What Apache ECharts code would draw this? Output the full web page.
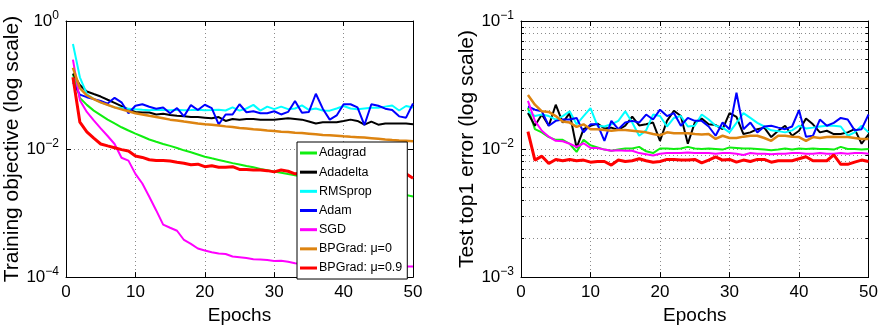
<!DOCTYPE html>
<html><head><meta charset="utf-8">
<script src="https://cdn.jsdelivr.net/npm/echarts@6/dist/echarts.min.js"></script>
<style>html,body{margin:0;padding:0;background:#fff}#c{width:881px;height:330px}</style>
</head><body><div id="c"></div>
<script>
const epochs = [1,2,3,4,5,6,7,8,9,10,11,12,13,14,15,16,17,18,19,20,21,22,23,24,25,26,27,28,29,30,31,32,33,34,35,36,37,38,39,40,41,42,43,44,45,46,47,48,49,50];
const seriesNames = ['Adagrad','Adadelta','RMSprop','Adam','SGD','BPGrad: \u03bc=0','BPGrad: \u03bc=0.9'];
const xTicks = [0,10,20,30,40,50];

// Left: training objective
const trainAdagrad = [0.148,0.0631,0.049,0.0398,0.0339,0.0288,0.0251,0.0219,0.0195,0.0174,0.0157,0.0141,0.0130,0.0120,0.0112,0.0104,0.00955,0.00891,0.00822,0.00759,0.00716,0.00676,0.00638,0.00603,0.00575,0.00543,0.00519,0.0049,0.00468,0.00447,0.00427,0.00407,0.00389,0.00372,0.00355,0.00339,0.00324,0.00309,0.00295,0.00282,0.00269,0.00257,0.00245,0.00234,0.00224,0.00214,0.00207,0.002,0.00191,0.00182];
const trainAdadelta = [0.151,0.100,0.0794,0.0724,0.0661,0.0589,0.0525,0.0468,0.0417,0.0380,0.0372,0.0372,0.0347,0.0355,0.0339,0.0331,0.0324,0.0316,0.0316,0.0309,0.0302,0.0316,0.0275,0.0295,0.0288,0.0295,0.0295,0.0288,0.0288,0.0288,0.0295,0.0302,0.0295,0.0288,0.0269,0.0251,0.0263,0.0263,0.0263,0.0275,0.0288,0.0275,0.0240,0.0269,0.0240,0.0251,0.0251,0.0251,0.0251,0.0245];
const trainRMSprop = [0.437,0.132,0.0724,0.0603,0.0537,0.049,0.0447,0.0437,0.0427,0.0417,0.0410,0.0405,0.0410,0.0407,0.0405,0.0410,0.0405,0.0407,0.0410,0.0405,0.0407,0.0410,0.0400,0.0447,0.0398,0.0430,0.0490,0.0398,0.0460,0.0420,0.0460,0.0420,0.0430,0.0480,0.0410,0.0430,0.0400,0.0398,0.0430,0.0470,0.0430,0.0420,0.0430,0.0440,0.0440,0.0460,0.0480,0.0400,0.0470,0.0445];
const trainAdam = [0.110,0.0708,0.0646,0.0603,0.0562,0.0513,0.0631,0.0537,0.0363,0.0475,0.0501,0.0457,0.0427,0.0447,0.0363,0.0437,0.0324,0.0486,0.0407,0.0492,0.0437,0.0242,0.0347,0.0347,0.0501,0.0376,0.0389,0.0363,0.0363,0.0389,0.0347,0.0380,0.0562,0.0370,0.0380,0.0731,0.0427,0.0288,0.0335,0.0501,0.0501,0.0447,0.0237,0.0501,0.0475,0.0427,0.0407,0.0324,0.0309,0.0515];
const trainSGD = [0.25,0.058,0.038,0.028,0.021,0.016,0.012,0.0073,0.0066,0.0041,0.0029,0.0018,0.0011,0.00066,0.00059,0.00053,0.00038,0.00033,0.00028,0.00026,0.000245,0.000234,0.00023,0.00021,0.000205,0.000198,0.00019,0.000188,0.000185,0.000178,0.00018,0.000174,0.000165,0.000162,0.00016,0.000158,0.000157,0.000155,0.000154,0.000153,0.000152,0.000151,0.00015,0.00015,0.000149,0.000149,0.000148,0.000148,0.000147,0.000147];
const trainBP0 = [0.186,0.0891,0.0692,0.0603,0.0537,0.049,0.0447,0.0417,0.0389,0.0363,0.0347,0.0331,0.0316,0.0302,0.0288,0.0279,0.0269,0.026,0.0251,0.0245,0.024,0.0234,0.0226,0.0221,0.0214,0.0209,0.0204,0.02,0.0195,0.0191,0.0186,0.0184,0.018,0.0178,0.0174,0.017,0.0166,0.0164,0.0162,0.0158,0.0155,0.0153,0.0151,0.0148,0.0145,0.0141,0.0138,0.0136,0.0135,0.0132];
const trainBP09 = [0.132,0.0263,0.0186,0.0148,0.012,0.0112,0.0105,0.0098,0.0093,0.0078,0.0074,0.0068,0.0066,0.0066,0.0065,0.0062,0.006,0.0057,0.0058,0.0053,0.0055,0.0052,0.0052,0.0053,0.0048,0.0048,0.0047,0.0047,0.0046,0.0044,0.0047,0.0045,0.0041,0.0042,0.0042,0.0041,0.0042,0.0041,0.0041,0.0041,0.0040,0.0041,0.0040,0.0040,0.0041,0.0040,0.0040,0.0040,0.0041,0.0035];

// Right: test top1 error
const testAdagrad = [0.0209,0.0143,0.0135,0.0124,0.0118,0.0118,0.0110,0.0095,0.0118,0.0107,0.0103,0.0099,0.0097,0.0099,0.0101,0.0101,0.0104,0.0096,0.0093,0.0101,0.0101,0.0100,0.0101,0.0104,0.0101,0.0100,0.0101,0.0100,0.0099,0.0103,0.0102,0.0101,0.0101,0.0100,0.0099,0.0098,0.0099,0.0101,0.0099,0.0101,0.0100,0.0101,0.0100,0.0100,0.0099,0.0104,0.0100,0.0100,0.0099,0.0100];
const testAdadelta = [0.0191,0.0152,0.0186,0.0152,0.0222,0.0161,0.0191,0.0102,0.0143,0.0152,0.0158,0.0145,0.0147,0.0141,0.0152,0.0179,0.0153,0.0156,0.0161,0.0116,0.0166,0.0199,0.0181,0.0110,0.0161,0.0173,0.0156,0.0154,0.0143,0.0191,0.0178,0.0131,0.0135,0.0143,0.0147,0.0124,0.0139,0.0152,0.0127,0.0139,0.0173,0.0156,0.0135,0.0139,0.0131,0.0131,0.0135,0.0143,0.0110,0.0130];
const testRMSprop = [0.0197,0.0181,0.0186,0.0181,0.0170,0.0181,0.0197,0.0156,0.0181,0.0209,0.0152,0.0150,0.0156,0.0166,0.0197,0.0161,0.0127,0.0140,0.0186,0.0181,0.0150,0.0175,0.0181,0.0150,0.0152,0.0186,0.0170,0.0152,0.0147,0.0135,0.0160,0.0191,0.0175,0.0160,0.0150,0.0140,0.0138,0.0135,0.0140,0.0152,0.0145,0.0147,0.0150,0.0152,0.0152,0.0150,0.0127,0.0135,0.0152,0.0135];
const testAdam = [0.0215,0.0203,0.0197,0.0152,0.0166,0.0170,0.0170,0.0175,0.0135,0.0156,0.0156,0.0116,0.0166,0.0143,0.0161,0.0166,0.0161,0.0186,0.0170,0.0203,0.0181,0.0191,0.0152,0.0175,0.0166,0.0166,0.0150,0.0127,0.0161,0.0143,0.0275,0.0143,0.0161,0.0135,0.0150,0.0152,0.0147,0.0143,0.0150,0.0201,0.0125,0.0127,0.0170,0.0152,0.0160,0.0175,0.0170,0.0140,0.0143,0.0186];
const testSGD = [0.0238,0.0166,0.0139,0.0125,0.0116,0.0115,0.0110,0.0104,0.0111,0.0102,0.0102,0.0099,0.0097,0.0098,0.0097,0.0097,0.0093,0.0091,0.0089,0.0092,0.0093,0.0093,0.0093,0.0094,0.0093,0.0093,0.0093,0.0092,0.0093,0.0093,0.0092,0.0090,0.0093,0.0092,0.0092,0.0091,0.0092,0.0092,0.0093,0.0093,0.0092,0.0092,0.0093,0.0092,0.0092,0.0093,0.0092,0.0093,0.0093,0.0092];
const testBP0 = [0.0264,0.0222,0.0197,0.0195,0.0181,0.0164,0.0161,0.0149,0.0156,0.0143,0.0143,0.0141,0.0139,0.0141,0.0141,0.0139,0.0137,0.0135,0.0131,0.0128,0.0135,0.0133,0.0133,0.0133,0.0131,0.0130,0.0131,0.0120,0.0127,0.0122,0.0122,0.0125,0.0127,0.0127,0.0122,0.0116,0.0127,0.0127,0.0125,0.0124,0.0116,0.0124,0.0122,0.0124,0.0125,0.0124,0.0124,0.0122,0.0120,0.0120];
const testBP09 = [0.0137,0.0082,0.0088,0.0077,0.0083,0.0081,0.0083,0.0081,0.0082,0.0079,0.0080,0.0080,0.0075,0.0082,0.0080,0.0081,0.0084,0.0081,0.0079,0.0080,0.0083,0.0083,0.0082,0.0082,0.0083,0.0078,0.0082,0.0087,0.0082,0.0083,0.0079,0.0082,0.0080,0.0083,0.0083,0.0079,0.0081,0.0081,0.0081,0.0084,0.0087,0.0081,0.0081,0.0081,0.0090,0.0076,0.0076,0.0079,0.0082,0.0080];

const trainData = [trainAdagrad, trainAdadelta, trainRMSprop, trainAdam, trainSGD, trainBP0, trainBP09];
const testData = [testAdagrad, testAdadelta, testRMSprop, testAdam, testSGD, testBP0, testBP09];
const colors = ['#10ee10', '#000000', '#00ffff', '#0000ff', '#ff00ff', '#dd8411', '#ff0000'];
const widths = [2, 2, 2, 2, 2, 2.5, 3];

const FONT = '"Liberation Sans", Arial, Helvetica, sans-serif';

function expLabel(v) {
  const e = Math.round(Math.log10(v));
  const s = e < 0 ? '\u2212' + (-e) : String(e);
  return '{b|10}{s|' + s + '}';
}
const rich = {
  b: { fontSize: 17, fontFamily: FONT, color: '#000' },
  s: { fontSize: 12, fontFamily: FONT, color: '#000', padding: [0, 0, 11, 0] }
};

function xAx(grid, pos) {
  const main = pos === 'bottom';
  return {
    gridIndex: grid, type: 'value', position: pos, min: 0, max: 50, interval: 10,
    axisLine: { show: true, onZero: false, lineStyle: { color: '#000', width: 1 } },
    axisTick: { show: true, inside: true, length: 5, lineStyle: { color: '#000' } },
    axisLabel: { show: main, fontSize: 17, fontFamily: FONT, color: '#000', margin: 7,
      formatter: v => (xTicks.indexOf(v) >= 0 ? String(v) : '') },
    splitLine: { show: main, lineStyle: { type: [1, 3], color: '#8a8a8a', width: 1 } },
    name: main ? 'Epochs' : '', nameLocation: 'middle', nameGap: 24,
    nameTextStyle: { fontSize: 19, fontFamily: FONT, color: '#000' }
  };
}
function yAx(grid, pos, min, max, interval, name, minor) {
  const main = pos === 'left';
  return {
    gridIndex: grid, type: 'log', logBase: 10, position: pos, min: min, max: max, interval: interval,
    axisLine: { show: true, onZero: false, lineStyle: { color: '#000', width: 1 } },
    axisTick: { show: true, inside: true, length: 5, lineStyle: { color: '#000' } },
    minorTick: { show: minor, splitNumber: 9, length: 3, lineStyle: { color: '#000' } },
    minorSplitLine: { show: minor && main, lineStyle: { type: [1, 3], color: '#8a8a8a', width: 1 } },
    axisLabel: { show: main, formatter: expLabel, rich: rich, margin: 7 },
    splitLine: { show: main, lineStyle: { type: [1, 3], color: '#8a8a8a', width: 1 } },
    name: main ? name : '', nameLocation: 'middle', nameRotate: 90, nameGap: 36,
    nameTextStyle: { fontSize: 21, fontFamily: FONT, color: '#000' }
  };
}

const series = [];
seriesNames.forEach((n, i) => {
  series.push({
    name: n, type: 'line', xAxisIndex: 0, yAxisIndex: 0, symbol: 'none', showSymbol: false,
    data: epochs.map((e, k) => [e, trainData[i][k]]),
    lineStyle: { color: colors[i], width: widths[i] }, itemStyle: { color: colors[i] },
    z: 2 + i, silent: true
  });
});
seriesNames.forEach((n, i) => {
  series.push({
    name: n, type: 'line', xAxisIndex: 2, yAxisIndex: 2, symbol: 'none', showSymbol: false,
    data: epochs.map((e, k) => [e, testData[i][k]]),
    lineStyle: { color: colors[i], width: widths[i] }, itemStyle: { color: colors[i] },
    z: 2 + i, silent: true
  });
});

const chart = echarts.init(document.getElementById('c'), null, { renderer: 'canvas' });
chart.setOption({
  animation: false,
  backgroundColor: '#fff',
  grid: [
    { left: 66, top: 21, width: 347, height: 264 },
    { left: 521, top: 21, width: 348, height: 262 }
  ],
  xAxis: [xAx(0, 'bottom'), xAx(0, 'top'), xAx(1, 'bottom'), xAx(1, 'top')],
  yAxis: [
    yAx(0, 'left', 1e-4, 1, 2, 'Training objective (log scale)', false),
    yAx(0, 'right', 1e-4, 1, 2, '', false),
    yAx(1, 'left', 1e-3, 1e-1, 1, 'Test top1 error (log scale)', true),
    yAx(1, 'right', 1e-3, 1e-1, 1, '', true)
  ],
  legend: {
    data: seriesNames.map((n, i) => ({ name: n, icon: 'rect', itemStyle: { color: colors[i] } })),
    orient: 'vertical', left: 297, top: 142,
    itemWidth: 17, itemHeight: 3, itemGap: 5.17, padding: [4, 5, 4, 3],
    backgroundColor: '#fff', borderColor: '#000', borderWidth: 1, borderRadius: 0,
    textStyle: { fontSize: 12.5, lineHeight: 14, fontFamily: FONT, color: '#000', padding: [0, 0, 0, -3] },
    selectedMode: false, z: 10
  },
  series: series
});
</script></body></html>
